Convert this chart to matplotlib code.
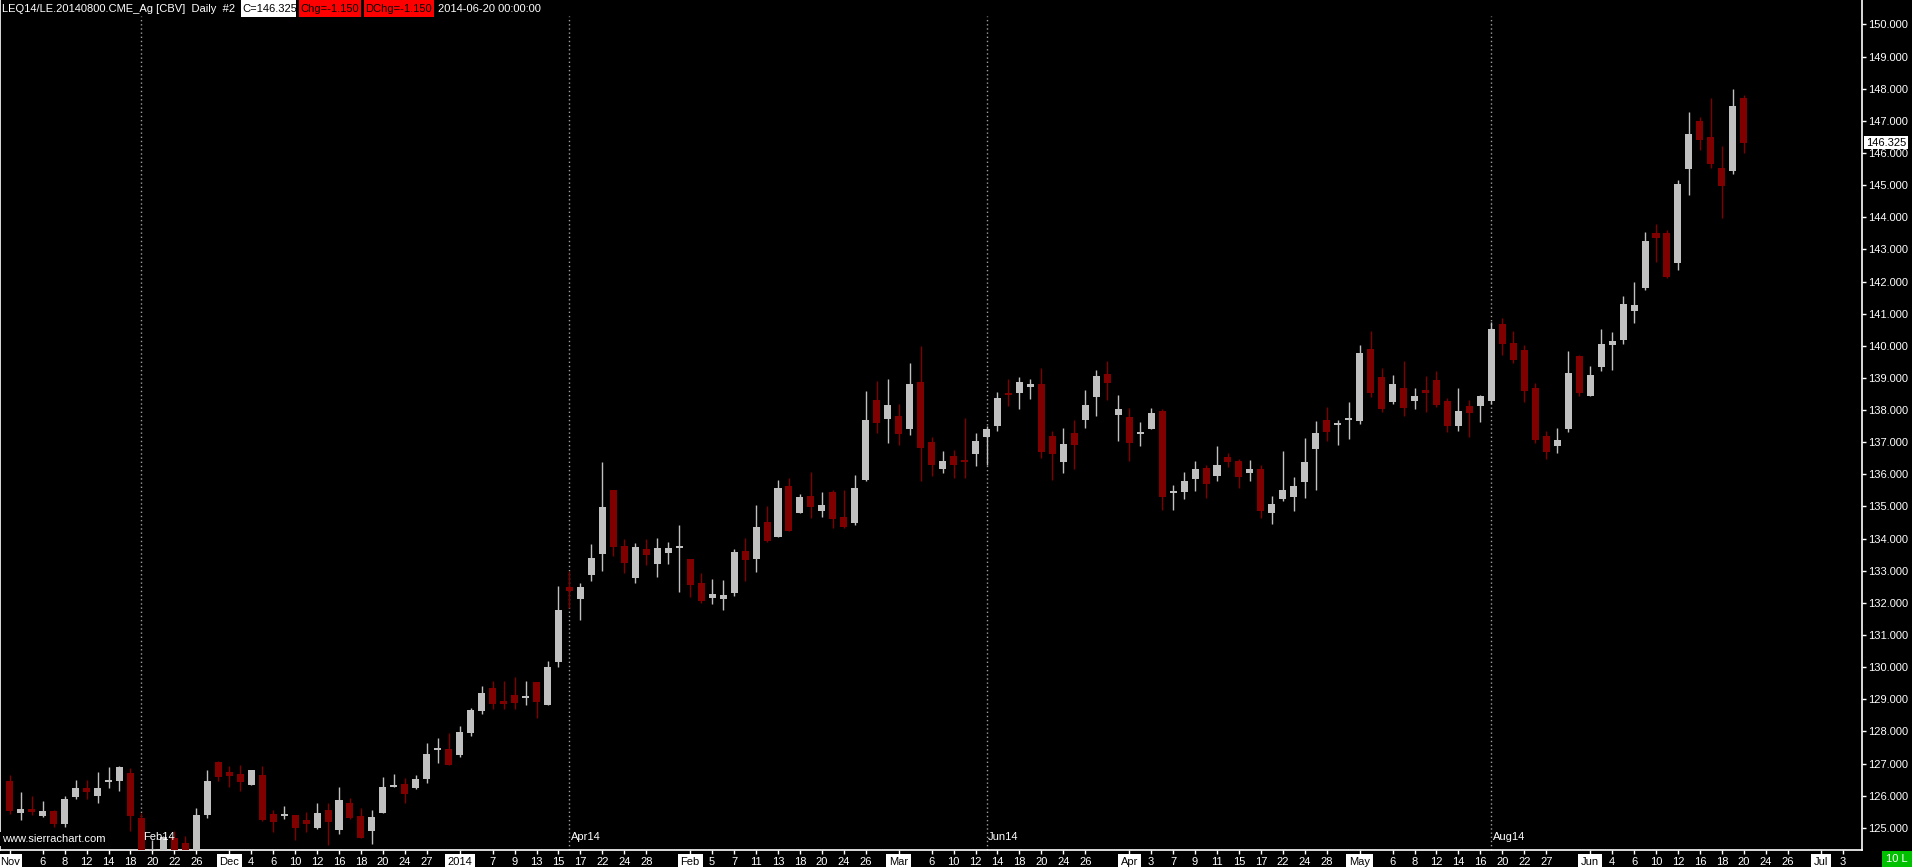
import numpy as np
import pandas as pd
import matplotlib
matplotlib.use("Agg")
import matplotlib.pyplot as plt
from matplotlib import font_manager
from matplotlib.patches import Rectangle

W, H = 1912, 867

# 日足データ LEQ14 (2013-11-01 〜 2014-06-20)
opens = [126.46, 125.47, 125.59, 125.37, 125.53, 125.13, 125.96, 126.24, 125.99, 126.43,
         126.46, 126.71, 125.31, 124.00, 124.10, 124.68, 124.53, 124.20, 125.40, 127.05,
         126.74, 126.68, 126.33, 126.65, 125.43, 125.36, 125.40, 125.25, 125.00, 125.56,
         124.93, 125.77, 125.37, 124.90, 125.46, 126.28, 126.37, 126.24, 126.52, 127.43,
         127.45, 127.27, 127.95, 128.64, 129.35, 128.95, 129.13, 129.05, 129.54, 128.82,
         130.16, 132.50, 132.12, 132.87, 133.52, 135.51, 133.77, 132.77, 133.68, 133.21,
         133.55, 133.70, 133.37, 132.62, 132.15, 132.12, 132.31, 133.62, 133.37, 134.52,
         134.05, 135.64, 134.80, 135.33, 134.86, 135.45, 134.67, 134.49, 135.83, 138.31,
         137.72, 137.82, 137.41, 138.87, 137.01, 136.17, 136.57, 136.44, 136.63, 137.16,
         137.50, 138.53, 138.53, 138.72, 138.81, 137.19, 136.38, 137.29, 137.69, 138.41,
         139.12, 137.85, 137.78, 137.27, 137.41, 137.97, 135.43, 135.45, 135.85, 136.20,
         135.95, 136.54, 136.42, 136.04, 136.17, 134.80, 135.23, 135.29, 135.76, 136.79,
         137.69, 137.53, 137.68, 137.66, 139.90, 139.03, 138.25, 138.69, 138.28, 138.62,
         138.94, 138.28, 137.50, 138.13, 138.13, 138.28, 140.68, 140.09, 139.87, 138.69,
         137.19, 136.88, 137.41, 139.68, 138.44, 139.34, 140.02, 140.18, 141.08, 141.80,
         143.51, 143.51, 142.58, 145.50, 147.00, 146.50, 145.53, 145.44, 147.71]
highs = [126.65, 126.12, 125.99, 125.84, 125.55, 125.99, 126.49, 126.49, 126.74, 126.90,
         126.92, 126.86, 125.46, 124.62, 124.75, 124.90, 124.75, 125.62, 126.80, 127.08,
         126.93, 126.96, 126.80, 126.93, 125.56, 125.68, 125.40, 125.50, 125.77, 125.77,
         126.27, 125.93, 125.62, 125.56, 126.58, 126.68, 126.55, 126.65, 127.64, 127.80,
         127.95, 128.17, 128.72, 129.41, 129.57, 129.57, 129.70, 129.57, 129.54, 130.19,
         132.53, 132.99, 132.62, 133.83, 136.38, 135.51, 133.99, 133.86, 133.99, 134.02,
         133.90, 134.43, 133.37, 132.93, 132.74, 132.71, 133.68, 134.02, 135.05, 135.02,
         135.83, 135.89, 135.39, 136.07, 135.45, 135.51, 135.51, 135.98, 138.60, 138.90,
         138.97, 138.19, 139.46, 139.99, 137.16, 136.73, 136.76, 137.75, 137.29, 137.50,
         138.56, 138.97, 139.03, 138.97, 139.31, 137.35, 137.44, 137.69, 138.62, 139.25,
         139.53, 138.47, 138.06, 137.63, 138.06, 138.03, 135.67, 136.07, 136.42, 136.29,
         136.88, 136.66, 136.48, 136.45, 136.29, 135.33, 136.73, 135.92, 137.13, 137.66,
         138.09, 137.69, 138.25, 140.02, 140.46, 139.31, 139.09, 139.53, 138.69, 139.06,
         139.22, 138.38, 138.69, 138.31, 138.47, 140.74, 140.87, 140.46, 140.02, 138.84,
         137.35, 137.44, 139.84, 139.71, 139.37, 140.52, 140.43, 141.55, 141.98, 143.54,
         143.79, 143.60, 145.16, 147.27, 147.12, 147.71, 146.22, 147.99, 147.80]
lows = [125.44, 125.25, 125.40, 125.35, 125.04, 125.04, 125.90, 125.90, 125.77, 126.24,
        126.15, 124.90, 123.90, 123.80, 123.90, 124.00, 124.10, 124.10, 125.32, 126.46,
        126.27, 126.15, 126.33, 125.21, 124.87, 125.28, 124.62, 124.87, 124.97, 124.47,
        124.81, 125.28, 124.69, 124.50, 125.46, 126.27, 125.77, 126.21, 126.40, 127.02,
        126.96, 127.20, 127.85, 128.54, 128.70, 128.70, 128.70, 128.82, 128.42, 128.82,
        130.01, 131.84, 131.47, 132.68, 132.99, 133.46, 132.93, 132.62, 133.18, 132.81,
        133.21, 132.34, 132.18, 132.00, 131.97, 131.78, 132.22, 132.68, 132.96, 133.90,
        134.05, 134.24, 134.80, 134.64, 134.67, 134.33, 134.33, 134.43, 135.80, 137.30,
        136.97, 136.91, 137.22, 135.79, 135.95, 136.04, 135.89, 135.89, 136.26, 136.29,
        137.35, 138.13, 138.03, 138.34, 136.51, 135.82, 136.04, 136.17, 137.44, 137.82,
        138.31, 137.04, 136.42, 136.88, 137.41, 134.89, 134.89, 135.23, 135.48, 135.26,
        135.79, 136.23, 135.57, 135.79, 134.64, 134.45, 135.17, 134.86, 135.26, 135.51,
        137.04, 136.91, 137.10, 137.57, 138.41, 137.94, 138.19, 137.82, 138.03, 137.94,
        138.10, 137.32, 137.35, 137.16, 137.63, 138.19, 139.71, 139.46, 138.25, 136.98,
        136.48, 136.66, 137.32, 138.44, 138.44, 139.22, 139.25, 140.06, 140.71, 141.74,
        142.61, 142.11, 142.36, 144.69, 146.09, 145.53, 143.98, 145.35, 146.00]
closes = [125.53, 125.59, 125.50, 125.53, 125.13, 125.90, 126.24, 126.12, 126.24, 126.45,
          126.90, 125.38, 124.10, 124.35, 124.72, 124.20, 124.25, 125.40, 126.46, 126.59,
          126.61, 126.43, 126.80, 125.25, 125.18, 125.40, 125.00, 125.12, 125.46, 125.18,
          125.87, 125.31, 124.69, 125.34, 126.27, 126.30, 126.05, 126.52, 127.30, 127.45,
          126.96, 127.97, 128.67, 129.20, 128.85, 128.85, 128.89, 129.07, 128.92, 130.01,
          131.78, 132.37, 132.50, 133.40, 134.98, 133.74, 133.24, 133.74, 133.49, 133.71,
          133.71, 133.72, 132.56, 132.06, 132.28, 132.25, 133.58, 133.34, 134.36, 133.93,
          135.58, 134.24, 135.30, 134.98, 135.05, 134.61, 134.36, 135.58, 137.70, 137.60,
          138.16, 137.25, 138.81, 136.82, 136.29, 136.42, 136.29, 136.39, 137.04, 137.41,
          138.38, 138.47, 138.87, 138.81, 136.70, 136.63, 136.94, 136.91, 138.16, 139.06,
          138.84, 138.03, 136.97, 137.29, 137.91, 135.29, 135.45, 135.79, 136.17, 135.70,
          136.29, 136.38, 135.92, 136.17, 134.86, 135.08, 135.51, 135.64, 136.38, 137.29,
          137.32, 137.55, 137.72, 139.78, 138.53, 138.03, 138.81, 138.06, 138.44, 138.53,
          138.16, 137.50, 137.97, 137.91, 138.44, 140.52, 140.06, 139.56, 138.59, 137.07,
          136.70, 137.07, 139.15, 138.53, 139.09, 140.06, 140.15, 141.30, 141.27, 143.26,
          143.35, 142.14, 145.03, 146.59, 146.40, 145.66, 144.97, 147.475, 146.325]

# 休場日
holidays = ["2013-11-28", "2013-12-25", "2014-01-01", "2014-01-20", "2014-02-17",
            "2014-04-18", "2014-05-26", "2014-07-04"]

# 日付目盛り
tick_days = ["2013-11-01", "2013-11-06", "2013-11-08", "2013-11-12", "2013-11-14",
             "2013-11-18", "2013-11-20", "2013-11-22", "2013-11-26",
             "2013-12-02", "2013-12-04", "2013-12-06", "2013-12-10", "2013-12-12",
             "2013-12-16", "2013-12-18", "2013-12-20", "2013-12-24", "2013-12-27",
             "2014-01-02", "2014-01-07", "2014-01-09", "2014-01-13", "2014-01-15",
             "2014-01-17", "2014-01-22", "2014-01-24", "2014-01-28",
             "2014-02-03", "2014-02-05", "2014-02-07", "2014-02-11", "2014-02-13",
             "2014-02-18", "2014-02-20", "2014-02-24", "2014-02-26",
             "2014-03-03", "2014-03-06", "2014-03-10", "2014-03-12", "2014-03-14",
             "2014-03-18", "2014-03-20", "2014-03-24", "2014-03-26",
             "2014-04-01", "2014-04-03", "2014-04-07", "2014-04-09", "2014-04-11",
             "2014-04-15", "2014-04-17", "2014-04-22", "2014-04-24", "2014-04-28",
             "2014-05-01", "2014-05-06", "2014-05-08", "2014-05-12", "2014-05-14",
             "2014-05-16", "2014-05-20", "2014-05-22", "2014-05-27",
             "2014-06-02", "2014-06-04", "2014-06-06", "2014-06-10", "2014-06-12",
             "2014-06-16", "2014-06-18", "2014-06-20", "2014-06-24", "2014-06-26",
             "2014-07-01", "2014-07-03"]

# 限月の切り替え
roll_days = ["2013-11-19", "2014-01-16", "2014-03-13", "2014-05-19"]
roll_names = ["Feb14", "Apr14", "Jun14", "Aug14"]

last_price = 146.325
price_ticks = np.arange(125, 151)

UP = "#C0C0C0"
DOWN = "#800000"

# 細いフォントがあればそれを使う
names = {f.name for f in font_manager.fontManager.ttflist}
if "Liberation Sans Narrow" in names:
    FAMILY, FS = "Liberation Sans Narrow", 9.5
else:
    FAMILY, FS = "Liberation Sans", 8
plt.rcParams["font.family"] = [FAMILY, "DejaVu Sans"]

days = pd.bdate_range("2013-11-01", "2014-07-03")
days = days[~days.isin(pd.to_datetime(holidays))]
pos = {d: i for i, d in enumerate(days)}

o = np.array(opens); h = np.array(highs); l = np.array(lows); c = np.array(closes)
x = np.arange(len(o))
col = np.where(c >= o, UP, DOWN)

fig = plt.figure(figsize=(W / 100, H / 100), dpi=100, facecolor="black")
ax = fig.add_axes([0, 17 / H, 1862 / W, 850 / H], facecolor="black")

# ローソク足
ax.vlines(x, l, h, colors=col, lw=1.0, zorder=2)
body_lo = np.minimum(o, c)
body_h = np.maximum(np.abs(c - o), 0.06)
ax.bar(x, body_h, bottom=body_lo, width=0.64, color=col, linewidth=0, zorder=3)

ymin, ymax = 124.312, 150.759
ax.set_ylim(ymin, ymax)
ax.set_xlim(-0.888, 168.77)

# 限月ライン
for d, name in zip(roll_days, roll_names):
    xm = pos[pd.Timestamp(d)]
    ax.vlines(xm, ymin, 150.26, colors="#A0A0A0", linestyles=(0, (1, 2)), lw=1.0, zorder=1)
    ax.text(xm + 0.12, 124.72, name, color="white", fontsize=FS, va="center", ha="left", zorder=5)

# 軸
for s in ["left", "right", "bottom"]:
    ax.spines[s].set_color("white")
    ax.spines[s].set_linewidth(1.2)
ax.spines["top"].set_visible(False)

ax.yaxis.tick_right()
ax.set_yticks(price_ticks)
ax.set_yticklabels([f"{v:.3f}" for v in price_ticks])
ax.tick_params(axis="y", colors="white", length=3, width=1, pad=1.5, labelsize=FS)

tick_pos, tick_lab, is_month = [], [], []
for d in pd.to_datetime(tick_days):
    i = pos[d]
    first = i == 0 or days[i - 1].month != d.month
    tick_pos.append(i)
    is_month.append(first)
    if first:
        tick_lab.append("2014" if d.month == 1 else d.strftime("%b"))
    else:
        tick_lab.append(str(d.day))
ax.set_xticks(tick_pos)
ax.set_xticklabels(tick_lab)
ax.tick_params(axis="x", colors="white", length=3, width=1, pad=2, labelsize=FS)
for t, m in zip(ax.get_xticklabels(), is_month):
    if m:
        t.set_color("black")
        t.set_bbox(dict(facecolor="white", edgecolor="none", pad=2.0))

# 最終値
ax.text(1.0022, last_price, f"{last_price:.3f}", transform=ax.get_yaxis_transform(),
        color="black", fontsize=FS, va="center", ha="left",
        bbox=dict(facecolor="white", edgecolor="none", pad=1.2), zorder=6, clip_on=False)

fig.text(2 / W, 1 - 839 / H, "www.sierrachart.com", color="white", fontsize=FS,
         va="center", ha="left", bbox=dict(facecolor="black", edgecolor="none", pad=1.5))

# ヘッダー
def box(x0, x1, y0, y1, color):
    fig.patches.append(Rectangle((x0 / W, 1 - y1 / H), (x1 - x0) / W, (y1 - y0) / H,
                                 transform=fig.transFigure, facecolor=color, edgecolor="none"))

ty = 1 - 8.5 / H
box(241, 296, 0, 17, "white")
box(299, 361, 0, 17, "#FF0000")
box(364, 434, 0, 17, "#FF0000")
fig.text(2 / W, ty, "LEQ14/LE.20140800.CME_Ag [CBV]  Daily  #2", color="white", fontsize=FS, va="center")
fig.text(242 / W, ty, f"C={last_price:.3f}", color="black", fontsize=FS, va="center")
fig.text(300 / W, ty, "Chg=-1.150", color="black", fontsize=FS, va="center")
fig.text(365 / W, ty, "DChg=-1.150", color="black", fontsize=FS, va="center")
fig.text(438 / W, ty, "2014-06-20 00:00:00", color="white", fontsize=FS, va="center")

box(1882, 1912, 851, 867, "#00C000")
fig.text(1897 / W, 1 - 859 / H, "10 L", color="white", fontsize=FS, va="center", ha="center")

fig.savefig("out.png", dpi=100, facecolor="black")
